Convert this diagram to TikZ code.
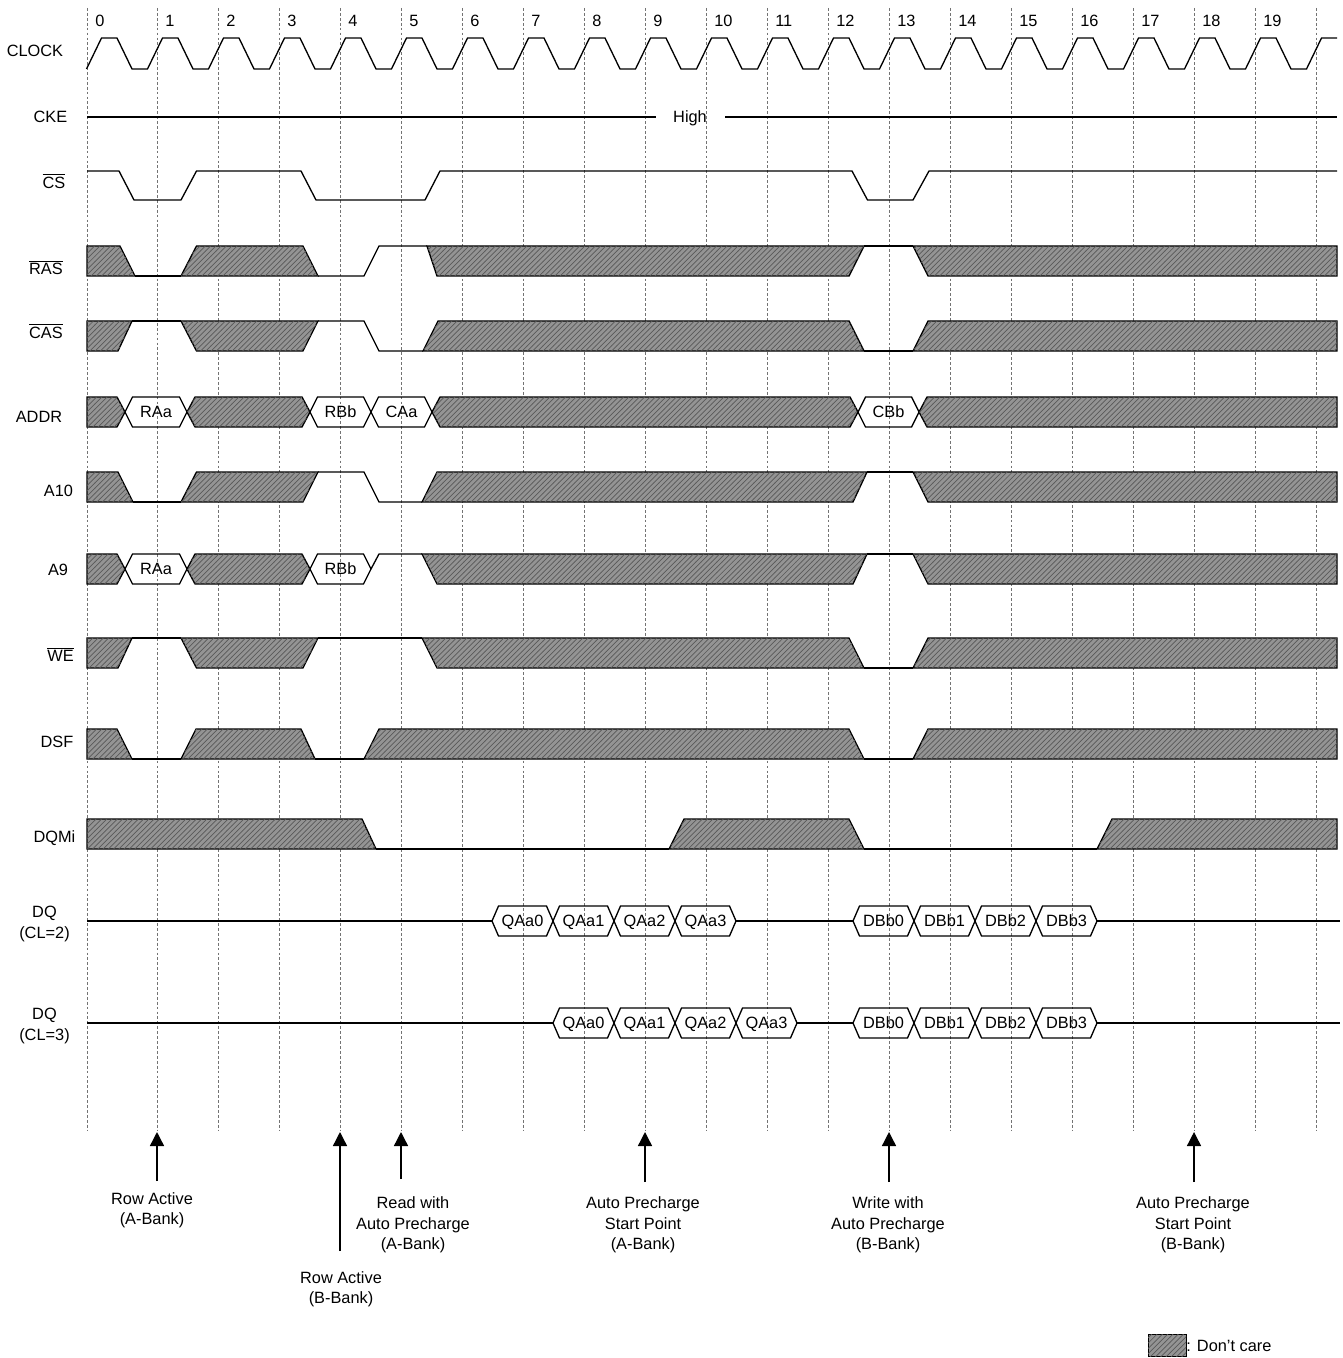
\documentclass[tikz,border=0pt]{standalone}
\usepackage{fontspec}
\setmainfont{Liberation Sans}
\usetikzlibrary{patterns,arrows.meta}
\newcommand\lblfont{\fontsize{9.3pt}{11.7pt}\selectfont}
\newcommand\mybox[4]{% x1, x2, mid y, label
  \draw[sig] (#1,#3) -- ++(7.5,-15) -- ({#2-7.5},{#3-15}) -- (#2,#3) -- ({#2-7.5},{#3+15}) -- ({#1+7.5},{#3+15}) -- cycle;
  \node[txt,anchor=base] at ({(#1+#2)/2},{#3+5.85}) {#4};}
\newcommand\mydq[4]{% x1, x2, mid y, label
  \draw[sig] (#1,#3) -- ++(6.5,-15) -- ({#2-6.5},{#3-15}) -- (#2,#3) -- ({#2-6.5},{#3+15}) -- ({#1+6.5},{#3+15}) -- cycle;
  \node[txt,anchor=base] at ({(#1+#2)/2},{#3+5.85}) {#4};}
\begin{document}
\begin{tikzpicture}[x=0.02cm,y=-0.02cm,
  sig/.style={line width=0.75pt,line join=miter},
  dc/.style={sig,fill=black!42,postaction={pattern=north east lines,pattern color=black!65}},
  grid/.style={black!55,line width=0.45pt,dash pattern=on 1.6pt off 1.2pt},
  txt/.style={font=\lblfont,inner sep=0pt},
  arr/.style={line width=0.8pt,-{Triangle[length=8pt,width=8pt]}}]
\useasboundingbox (0,0) rectangle (1342,1358);

% grid lines and cycle numbers
\draw[grid] (87,8) -- (87,1131);
\node[txt,anchor=base west] (n0) at (95,26.5) {0};
\foreach \i in {1,...,20}{
  \pgfmathsetmacro\xx{157+61*(\i-1)}
  \draw[grid] (\xx,8) -- (\xx,1131);
}
\foreach \i in {1,...,19}{
  \pgfmathsetmacro\xx{157+61*(\i-1)+8}
  \node[txt,anchor=base west] (n\i) at (\xx,26.5) {\i};
}

% row labels
\node[txt,anchor=base] (lclk) at (35,56.7) {CLOCK};
\node[txt,anchor=base] (lcke) at (50.5,122.5) {CKE};
\node[txt,anchor=base] (lcs) at (54,188.5) {$\overline{\hbox{CS}}$};
\node[txt,anchor=base] (lras) at (46,275) {$\overline{\hbox{RAS}}$};
\node[txt,anchor=base] (lcas) at (46,338.5) {$\overline{\hbox{CAS}}$};
\node[txt,anchor=base] (laddr) at (39,422.5) {ADDR};
\node[txt,anchor=base] (la10) at (58.5,496.8) {A10};
\node[txt,anchor=base] (la9) at (58,575.8) {A9};
\node[txt,anchor=base] (lwe) at (60.5,661.8) {$\overline{\hbox{WE}}$};
\node[txt,anchor=base] (ldsf) at (57,747.5) {DSF};
\node[txt,anchor=base] (ldqm) at (54.5,842.5) {DQMi};
\node[txt,anchor=north,align=center] (ldq2) at (44.5,906) {DQ\\(CL=2)};
\node[txt,anchor=north,align=center] (ldq3) at (44.5,1008) {DQ\\(CL=3)};

% CLOCK
\draw[sig] (86.5,69) \foreach \k in {0,...,19}{ -- ++(15,-31) -- ++(15.5,0) -- ++(15,31) -- ++(15.5,0)} -- ++(15,-31) -- (1337,38);

% CKE
\draw[sig] (87,117) -- (656,117);
\node[txt,anchor=base] (high) at (690,122.5) {High};
\draw[sig] (725,117) -- (1337,117);

% CS
\draw[sig] (87,171) -- (119,171) -- (134,200) -- (181,200) -- (196.5,171) -- (301,171) -- (316,200) -- (425,200) -- (440,171) -- (852,171) -- (867.5,200) -- (913,200) -- (929,171) -- (1337,171);

% RAS
\draw[dc] (87,246) -- (120,246) -- (135,276) -- (87,276) -- cycle;
\draw[sig] (135,276) -- (181,276);
\draw[dc] (181,276) -- (196.5,246) -- (303,246) -- (318,276) -- cycle;
\draw[sig] (318,276) -- (364,276) -- (379,246) -- (427,246);
\draw[dc] (427,246) -- (864,246) -- (849,276) -- (437,276) -- cycle;
\draw[sig] (864,246) -- (913,246);
\draw[dc] (913,246) -- (1337,246) -- (1337,276) -- (928,276) -- cycle;

% CAS
\draw[dc] (87,321) -- (132,321) -- (118,351) -- (87,351) -- cycle;
\draw[sig] (132,321) -- (181,321);
\draw[dc] (181,321) -- (318,321) -- (303,351) -- (196.5,351) -- cycle;
\draw[sig] (318,321) -- (364,321) -- (379,351) -- (423,351);
\draw[dc] (423,351) -- (438,321) -- (849,321) -- (864,351) -- cycle;
\draw[sig] (864,351) -- (913,351);
\draw[dc] (913,351) -- (928,321) -- (1337,321) -- (1337,351) -- cycle;

% ADDR
\draw[dc] (87,397) -- (117,397) -- (125,412) -- (117,427) -- (87,427) -- cycle;
\mybox{125}{187}{412}{RAa}
\draw[dc] (187,412) -- (195,397) -- (302,397) -- (310,412) -- (302,427) -- (195,427) -- cycle;
\mybox{310}{371}{412}{RBb}
\mybox{371}{432}{412}{CAa}
\draw[dc] (432,412) -- (440,397) -- (850,397) -- (858,412) -- (850,427) -- (440,427) -- cycle;
\mybox{858}{919}{412}{CBb}
\draw[dc] (919,412) -- (927,397) -- (1337,397) -- (1337,427) -- (927,427) -- cycle;

% A10
\draw[dc] (87,472) -- (118,472) -- (133,502) -- (87,502) -- cycle;
\draw[sig] (133,502) -- (181,502);
\draw[dc] (181,502) -- (196.5,472) -- (318,472) -- (303,502) -- cycle;
\draw[sig] (318,472) -- (364,472) -- (379,502) -- (422,502);
\draw[dc] (422,502) -- (437,472) -- (867,472) -- (853,502) -- cycle;
\draw[sig] (867,472) -- (913,472);
\draw[dc] (913,472) -- (1337,472) -- (1337,502) -- (928,502) -- cycle;

% A9
\draw[dc] (87,554) -- (117,554) -- (125,569) -- (117,584) -- (87,584) -- cycle;
\mybox{125}{187}{569}{RAa}
\draw[dc] (187,569) -- (195,554) -- (302,554) -- (310,569) -- (302,584) -- (195,584) -- cycle;
\mybox{310}{371}{569}{RBb}
\draw[sig] (371,569) -- (379,554) -- (422,554);
\draw[dc] (422,554) -- (867,554) -- (853,584) -- (437,584) -- cycle;
\draw[sig] (867,554) -- (913,554);
\draw[dc] (913,554) -- (1337,554) -- (1337,584) -- (928,584) -- cycle;

% WE
\draw[dc] (87,638) -- (132,638) -- (118,668) -- (87,668) -- cycle;
\draw[sig] (132,638) -- (181,638);
\draw[dc] (181,638) -- (318,638) -- (303,668) -- (196.5,668) -- cycle;
\draw[sig] (318,638) -- (422,638);
\draw[dc] (422,638) -- (849,638) -- (864,668) -- (437,668) -- cycle;
\draw[sig] (864,668) -- (913,668);
\draw[dc] (913,668) -- (928,638) -- (1337,638) -- (1337,668) -- cycle;

% DSF
\draw[dc] (87,729) -- (117,729) -- (132,759) -- (87,759) -- cycle;
\draw[sig] (132,759) -- (181,759);
\draw[dc] (181,759) -- (196,729) -- (301,729) -- (315,759) -- cycle;
\draw[sig] (315,759) -- (364,759);
\draw[dc] (364,759) -- (379,729) -- (849,729) -- (864,759) -- cycle;
\draw[sig] (864,759) -- (913,759);
\draw[dc] (913,759) -- (928,729) -- (1337,729) -- (1337,759) -- cycle;

% DQMi
\draw[dc] (87,819) -- (362,819) -- (376,849) -- (87,849) -- cycle;
\draw[sig] (376,849) -- (669,849);
\draw[dc] (669,849) -- (684,819) -- (849,819) -- (864,849) -- cycle;
\draw[sig] (864,849) -- (1097,849);
\draw[dc] (1097,849) -- (1112,819) -- (1337,819) -- (1337,849) -- cycle;

% DQ (CL=2)
\draw[sig] (87,921) -- (492,921);
\mydq{492}{553}{921}{QAa0}
\mydq{553}{614}{921}{QAa1}
\mydq{614}{675}{921}{QAa2}
\mydq{675}{736}{921}{QAa3}
\draw[sig] (736,921) -- (853,921);
\mydq{853}{914}{921}{DBb0}
\mydq{914}{975}{921}{DBb1}
\mydq{975}{1036}{921}{DBb2}
\mydq{1036}{1097}{921}{DBb3}
\draw[sig] (1097,921) -- (1340,921);

% DQ (CL=3)
\draw[sig] (87,1023) -- (553,1023);
\mydq{553}{614}{1023}{QAa0}
\mydq{614}{675}{1023}{QAa1}
\mydq{675}{736}{1023}{QAa2}
\mydq{736}{797}{1023}{QAa3}
\draw[sig] (797,1023) -- (853,1023);
\mydq{853}{914}{1023}{DBb0}
\mydq{914}{975}{1023}{DBb1}
\mydq{975}{1036}{1023}{DBb2}
\mydq{1036}{1097}{1023}{DBb3}
\draw[sig] (1097,1023) -- (1340,1023);

% event arrows
\coordinate (t1) at (157,1132); \coordinate (b1) at (157,1181);
\coordinate (t2) at (340,1132); \coordinate (b2) at (340,1251);
\coordinate (t3) at (401,1132); \coordinate (b3) at (401,1179);
\coordinate (t4) at (645,1132); \coordinate (b4) at (645,1182);
\coordinate (t5) at (889,1132); \coordinate (b5) at (889,1182);
\coordinate (t6) at (1194,1132); \coordinate (b6) at (1194,1182);
\foreach \i in {1,...,6}{\draw[arr] (b\i) -- (t\i);}

\node[txt,anchor=north,align=center] (e1) at (152,1192) {Row Active\\(A-Bank)};
\node[txt,anchor=north,align=center] (e2) at (341,1271) {Row Active\\(B-Bank)};
\node[txt,anchor=north,align=center] (e3) at (413,1196.5) {Read with\\Auto Precharge\\(A-Bank)};
\node[txt,anchor=north,align=center] (e4) at (643,1196.5) {Auto Precharge\\Start Point\\(A-Bank)};
\node[txt,anchor=north,align=center] (e5) at (888,1196.5) {Write with\\Auto Precharge\\(B-Bank)};
\node[txt,anchor=north,align=center] (e6) at (1193,1196.5) {Auto Precharge\\Start Point\\(B-Bank)};

% legend
\draw[dc,line width=0.4pt] (1148,1334) rectangle (1186,1356);
\node[txt,anchor=west] (legend) at (1186,1346) {: Don't care};
\end{tikzpicture}
\end{document}
